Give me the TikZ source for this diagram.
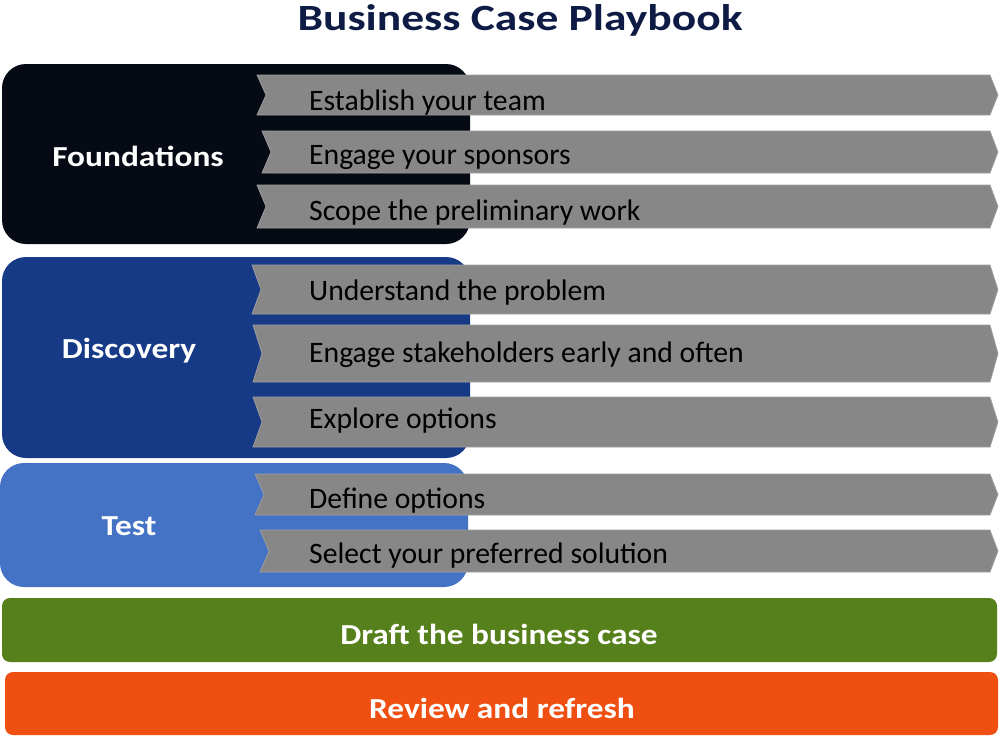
\documentclass[tikz,border=0pt]{standalone}
\usepackage{fontspec}
\setmainfont{Carlito}
\definecolor{titlec}{HTML}{0E1C45}
\definecolor{foundc}{HTML}{050A14}
\definecolor{discc}{HTML}{163A86}
\definecolor{testc}{HTML}{4472C4}
\definecolor{draftc}{HTML}{56801B}
\definecolor{reviewc}{HTML}{EF4F10}
\definecolor{chevc}{HTML}{878787}
\definecolor{chevline}{HTML}{A0A0A0}
\newcommand\widebold[1]{\scalebox{1.15}[1]{#1}}
\tikzset{
  phasebox/.style={rounded corners=24pt},
  barbox/.style={rounded corners=8pt},
  chevshape/.style={fill=chevc, draw=chevline, line width=0.7pt},
  chevtext/.style={anchor=west, inner sep=0pt, font=\fontsize{29.7}{31}\selectfont, text=black},
  phasetext/.style={inner sep=0pt, font=\bfseries\fontsize{29}{31}\selectfont, text=white},
}
% #1 name, #2 top, #3 bottom, #4 left, #5 text y, #6 text
\newcommand\mychev[6]{%
  \fill[chevshape] (#4,#2) -- (990,#2) -- (998,{(#2+#3)/2}) -- (990,#3) -- (#4,#3) -- ({#4+9},{(#2+#3)/2}) -- cycle;
  \node[chevtext] (#1) at (309,#5) {#6};
}
\begin{document}
\begin{tikzpicture}[x=1pt,y=-1pt]
\useasboundingbox (0,0) rectangle (1000,737);
\fill[white] (0,0) rectangle (1000,737);

\node[inner sep=0pt, font=\bfseries\fontsize{37}{39}\selectfont, text=titlec] (title) at (520,20) {\scalebox{1.23}[1]{Business Case Playbook}};

% phase boxes
\fill[foundc, phasebox] (2,64) rectangle (470,244);
\fill[discc, phasebox] (2,257) rectangle (470,458);
\fill[testc, phasebox] (0,463) rectangle (468,587);
\node[phasetext] (found) at (138,156) {\widebold{Foundations}};
\node[phasetext] (disc) at (129,351) {\widebold{Discovery}};
\node[phasetext] (test) at (129,526) {\widebold{Test}};

% chevrons
\mychev{c1}{75}{115}{257}{103}{Establish your team}
\mychev{c2}{131}{173}{262}{158}{Engage your sponsors}
\mychev{c3}{185}{228}{257}{213}{Scope the preliminary work}
\mychev{c4}{265}{314}{252}{293}{Understand the problem}
\mychev{c5}{325}{382}{253}{355}{Engage stakeholders early and often}
\mychev{c6}{397}{447}{253}{421}{Explore options}
\mychev{c7}{474}{515}{255}{501}{Define options}
\mychev{c8}{530}{572}{260}{556}{Select your preferred solution}

% bottom bars
\fill[draftc, barbox] (2,598) rectangle (997,662);
\fill[reviewc, barbox] (5,672) rectangle (998,735);
\node[phasetext] (draft) at (499,634) {\widebold{Draft the business case}};
\node[phasetext] (review) at (502,708) {\widebold{Review and refresh}};
\end{tikzpicture}
\end{document}
